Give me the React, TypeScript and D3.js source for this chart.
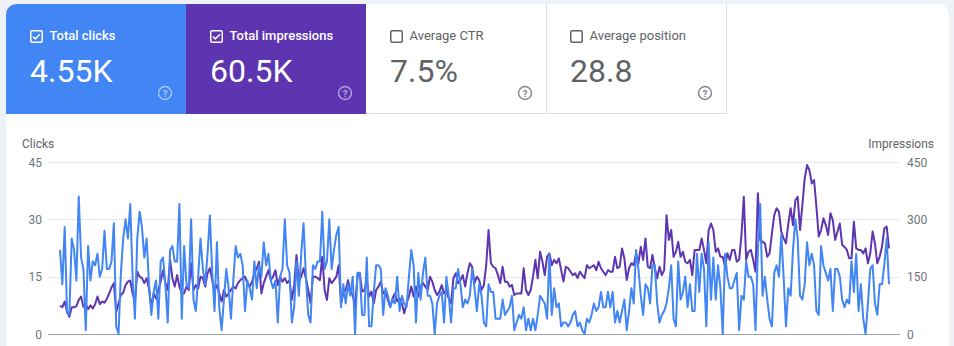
import React from "react";
import * as d3 from "d3";

// ---- Data ----
const metricLabels = ["Total clicks", "Total impressions", "Average CTR", "Average position"];
const metricValues = ["4.55K", "60.5K", "7.5%", "28.8"];
const metricChecked = [true, true, false, false];

const clickTicks = [0, 15, 30, 45];
const impressionTicks = [0, 150, 300, 450];

const clicks = [
  22,13,28,6,5,25,22,14,36,20,17,1,23,14,19,18,21,15,17,27,17,17,19,29,2,0,16,25,30,25,34,15,4,25,32,28,20,25,13,5,11,14,4,19,20,13,3,22,23,19,19,34,4,
  23,13,12,30,9,6,15,25,17,13,21,31,16,6,24,7,1,9,17,12,4,14,23,20,21,18,6,14,12,9,19,12,18,15,24,18,21,14,12,14,3,15,17,30,18,16,3,7,19,10,21,
  29,15,5,3,18,17,19,19,32,17,19,30,17,22,26,28,7,13,8,13,10,15,0,16,16,5,5,20,2,2,11,18,18,17,5,12,10,7,9,8,15,6,10,8,7,15,22,18,3,16,9,
  16,20,10,10,8,0,8,10,11,3,15,10,3,12,12,17,13,7,9,8,10,17,12,6,13,10,3,2,13,11,11,4,4,4,9,5,6,7,10,1,3,5,4,7,1,4,1,4,1,5,10,
  9,8,4,21,5,12,7,8,2,3,3,2,3,5,6,2,3,1,0,4,3,5,8,6,7,11,7,7,11,7,11,3,6,3,6,9,1,6,12,8,22,17,10,5,13,12,8,18,18,8,3,
  5,6,8,12,18,4,2,19,9,11,15,7,13,6,6,21,11,21,17,2,24,9,20,9,18,12,0,21,15,12,12,14,16,1,10,9,19,15,15,13,1,22,34,10,15,9,4,2,16,18,15,
  26,15,2,12,10,22,30,25,10,9,13,24,18,21,18,6,5,23,18,16,14,17,6,17,17,15,9,7,9,8,19,11,21,6,13,4,0,8,17,18,8,5,13,13,18,25,13,
];

const impressions = [
  74,70,85,58,45,70,70,73,89,98,71,78,65,75,67,78,98,78,85,82,92,106,122,133,58,80,102,108,128,137,140,106,85,163,150,146,133,146,119,71,106,93,115,137,167,133,115,194,146,124,154,124,106,
  106,124,115,185,115,128,119,150,146,124,159,172,141,115,128,106,85,115,98,106,115,124,119,133,141,146,150,133,124,137,159,172,189,106,133,150,167,141,150,167,128,150,137,146,133,141,89,128,207,137,150,
  172,146,115,80,150,150,146,141,202,115,89,146,133,141,150,180,80,106,115,141,111,102,71,150,159,111,115,141,98,111,80,115,124,137,106,111,89,71,93,106,85,93,80,54,80,98,124,98,124,98,124,
  133,124,115,150,137,115,102,111,128,106,115,93,80,146,159,133,141,154,124,159,185,176,133,150,141,115,128,180,272,185,176,172,154,133,176,137,137,124,128,102,106,106,106,172,115,102,115,150,194,146,215,
  189,154,202,211,180,194,185,198,167,137,176,172,163,154,159,146,163,154,146,180,172,176,180,167,189,172,163,154,167,163,163,202,172,176,224,198,141,172,185,180,211,185,228,194,250,176,172,207,172,146,176,
  154,167,311,246,272,202,215,241,202,215,189,185,194,154,220,220,220,250,220,185,272,289,272,215,224,202,202,176,211,194,220,220,189,194,259,359,194,215,220,194,163,368,246,241,237,202,211,263,311,329,320,
  268,250,237,289,329,285,350,359,272,337,407,442,429,394,403,333,255,272,303,285,259,316,298,246,268,289,233,228,220,198,198,294,224,220,220,211,224,185,211,268,237,185,202,228,276,281,224,
];

// ---- Styles ----
const W = 954;
const H = 346;
const BLUE = "#4285f4";
const PURPLE = "#5e35b1";
const GRAY_TEXT = "#5f6368";
const FONT = "Roboto, 'Noto Sans', sans-serif";

const tileFills = [BLUE, PURPLE, "#ffffff", "#ffffff"];

function Tile({ i }: { i: number }) {
  const x0 = 6 + i * 180;
  const colored = i < 2;
  const fg = colored ? "#ffffff" : GRAY_TEXT;
  const help = colored ? "rgba(255,255,255,0.55)" : "#80868b";
  const cbx = x0 + 24;
  return (
    <g>
      {i === 0 ? (
        <path
          d={`M${x0},${114} L${x0},${16} Q${x0},${4} ${x0 + 12},${4} L${x0 + 180},${4} L${x0 + 180},${114} Z`}
          fill={tileFills[i]}
        />
      ) : (
        <rect x={x0} y={4} width={180} height={110} fill={tileFills[i]} />
      )}
      <rect
        x={cbx + 0.75}
        y={30.75}
        width={11.5}
        height={11.5}
        rx={1.5}
        fill="none"
        stroke={fg}
        strokeWidth={1.5}
      />
      {metricChecked[i] && (
        <path
          d={`M${cbx + 3} ${36.6} L${cbx + 5.3} ${38.9} L${cbx + 10} ${34.2}`}
          fill="none"
          stroke={fg}
          strokeWidth={1.5}
        />
      )}
      <text
        x={cbx + 19.5}
        y={40}
        fontSize={13}
        fontWeight={colored ? 500 : 400}
        fill={fg}
        fontFamily={FONT}
      >
        {metricLabels[i]}
      </text>
      <text x={cbx} y={82} fontSize={32} fill={fg} fontFamily={FONT}>
        {metricValues[i]}
      </text>
      <circle cx={x0 + 159} cy={93} r={6.5} fill="none" stroke={help} strokeWidth={1.4} />
      <text
        x={x0 + 159}
        y={96.5}
        fontSize={9.5}
        fontWeight={700}
        textAnchor="middle"
        fill={help}
        fontFamily={FONT}
      >
        ?
      </text>
    </g>
  );
}

export default function App() {
  const N = clicks.length;
  const x = d3.scaleLinear().domain([0, N - 1]).range([60, 889]);
  const yC = d3.scaleLinear().domain([0, 45]).range([334, 162]);
  const yI = d3.scaleLinear().domain([0, 450]).range([334, 162]);

  const clickLine = d3
    .line<number>()
    .x((_, i) => x(i))
    .y((d) => yC(d));
  const impLine = d3
    .line<number>()
    .x((_, i) => x(i))
    .y((d) => yI(d));

  const gridX0 = 48;
  const gridX1 = 900;

  return (
    <svg
      width={W}
      height={H}
      style={{ position: "absolute", left: 0, top: 0, display: "block" }}
    >
      <rect x={0} y={0} width={W} height={H} fill="#eef1f6" />
      <path
        d={`M6,${H + 20} L6,16 Q6,4 18,4 L937,4 Q949,4 949,16 L949,${H + 20} Z`}
        fill="#ffffff"
      />
      {[0, 1, 2, 3].map((i) => (
        <Tile key={i} i={i} />
      ))}
      {/* tile borders */}
      <line x1={366} x2={726.5} y1={113.5} y2={113.5} stroke="#dadce0" />
      <line x1={546.5} x2={546.5} y1={4} y2={114} stroke="#dadce0" />
      <line x1={726.5} x2={726.5} y1={4} y2={114} stroke="#dadce0" />

      {/* axis titles */}
      <text x={22} y={148} fontSize={12} fill={GRAY_TEXT} fontFamily={FONT}>
        Clicks
      </text>
      <text x={934} y={148} fontSize={12} fill={GRAY_TEXT} textAnchor="end" fontFamily={FONT}>
        Impressions
      </text>

      {/* grid */}
      {clickTicks.map((t) => (
        <line
          key={"g" + t}
          x1={gridX0}
          x2={gridX1}
          y1={Math.round(yC(t)) + 0.5}
          y2={Math.round(yC(t)) + 0.5}
          stroke={t === 0 ? "#9aa0a6" : "#e8eaed"}
          strokeWidth={t === 0 ? 1.2 : 1}
        />
      ))}
      {clickTicks.map((t) => (
        <text
          key={"l" + t}
          x={42}
          y={yC(t) + 4.5}
          fontSize={12}
          textAnchor="end"
          fill="#70757a"
          fontFamily={FONT}
        >
          {t}
        </text>
      ))}
      {impressionTicks.map((t) => (
        <text
          key={"r" + t}
          x={907}
          y={yI(t) + 4.5}
          fontSize={12}
          textAnchor="start"
          fill="#70757a"
          fontFamily={FONT}
        >
          {t}
        </text>
      ))}

      {/* series */}
      <path
        d={impLine(impressions) || ""}
        fill="none"
        stroke={PURPLE}
        strokeWidth={2}
        strokeLinejoin="round"
      />
      <path
        d={clickLine(clicks) || ""}
        fill="none"
        stroke={BLUE}
        strokeWidth={2}
        strokeLinejoin="round"
      />
    </svg>
  );
}
